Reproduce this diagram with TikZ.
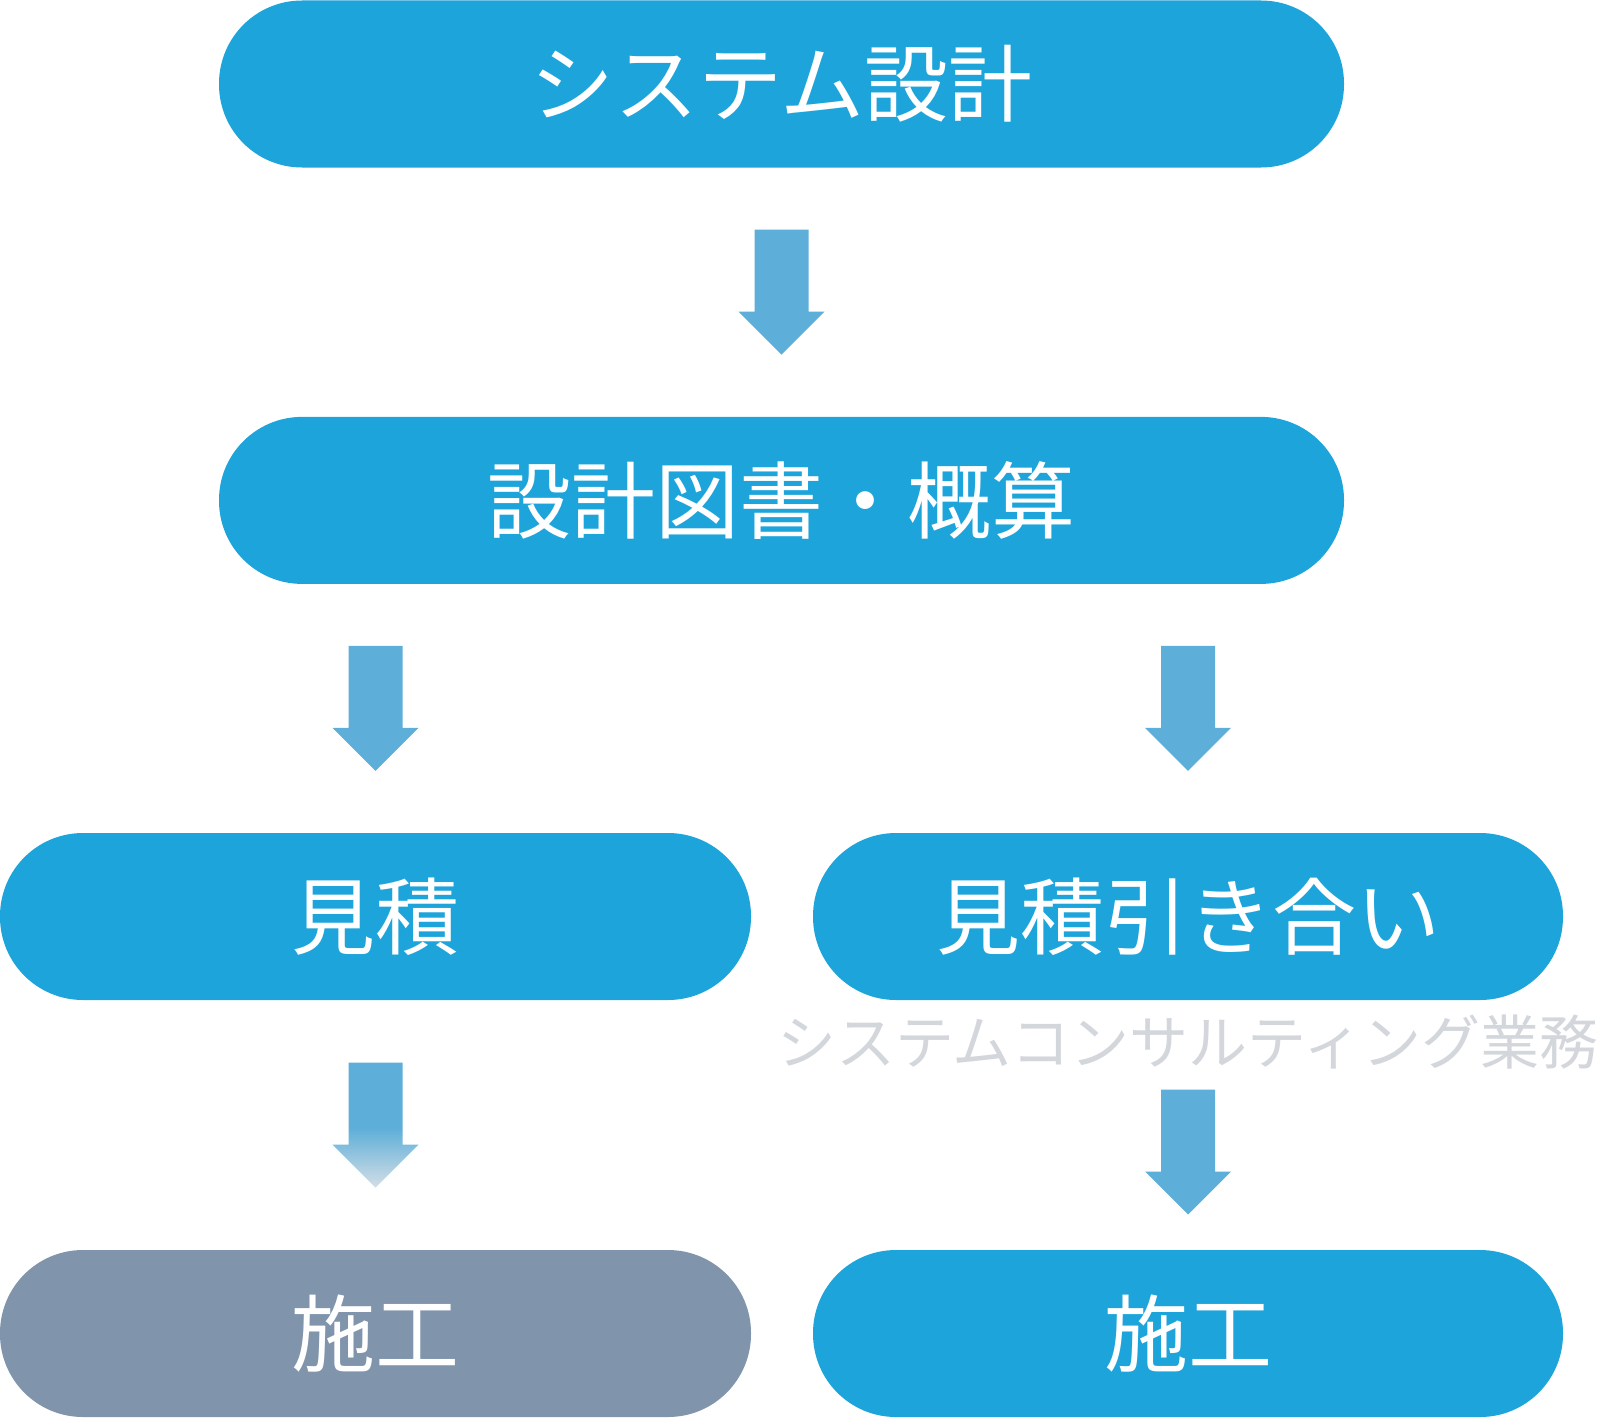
\documentclass[tikz,border=0pt]{standalone}
\usepackage{fontspec}
\newfontfamily\jpfont{Noto Sans CJK JP}
\usepackage{xcolor}
\usepackage{tikz}
\usetikzlibrary{positioning, calc}
\definecolor{boxblue}{HTML}{1DA4DB}
\definecolor{arrowblue}{HTML}{5DAED8}
\definecolor{boxgray}{HTML}{8094AB}
\definecolor{notegray}{HTML}{D3D7DC}
\definecolor{fadeend}{HTML}{D3DEE6}
\pgfdeclareverticalshading{fadearrow}{100bp}{color(0bp)=(fadeend); color(25bp)=(fadeend); color(49bp)=(arrowblue); color(100bp)=(arrowblue)}
\tikzstyle{flowbox} = [rectangle, rounded corners=83pt, minimum height=167pt, inner sep=0pt, text=white, font=\jpfont\fontsize{84}{90}\selectfont, fill=boxblue]
\tikzstyle{note} = [text=notegray, inner sep=0pt, font=\jpfont\fontsize{59}{64}\selectfont]
\newcommand{\blockarrow}[4][fill=arrowblue]{%
  \path ($(#2.south)!.5!(#3.north)+(0,#4)$) coordinate (mid);
  \path[#1] ($(mid)+(-27,-62.5)$) -- ++(54,0) -- ++(0,82) -- ++(16,0) -- ++(-43,43) -- ++(-43,-43) -- ++(16,0) -- cycle;
}

\begin{document}
\begin{tikzpicture}[x=1pt, y=-1pt]
		\useasboundingbox (0,0) rectangle (1597,1418);
		\node (sys) [flowbox, minimum width=1125pt] at (781.5,84) {システム設計};
		\node (plan) [flowbox, minimum width=1125pt, below=249pt of sys] {設計図書・概算};
		\node (est) [flowbox, minimum width=751pt] at (375.5,916.5) {見積};
		\node (nego) [flowbox, minimum width=750pt] at (1188,916.5) {見積引き合い};
		\node (consult) [note, below=14pt of nego] {システムコンサルティング業務};
		\node (buildA) [flowbox, minimum width=751pt, fill=boxgray] at (375.5,1333.5) {施工};
		\node (buildB) [flowbox, minimum width=750pt] at (1188,1333.5) {施工};
		
		\blockarrow{sys}{plan}{0}
		\blockarrow{plan.south -| est}{est}{0}
		\blockarrow{plan.south -| nego}{nego}{0}
		\blockarrow[shade, shading=fadearrow]{est}{buildA}{0}
		\blockarrow{nego}{buildB}{27}
	\end{tikzpicture}
\end{document}
